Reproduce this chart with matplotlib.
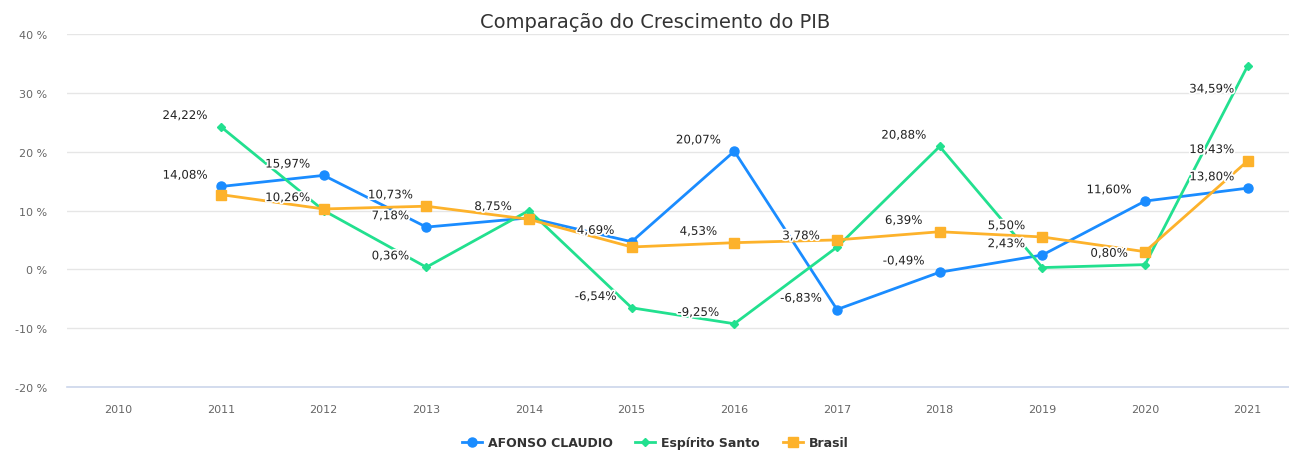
import matplotlib.pyplot as plt
import matplotlib.patheffects as pe
import numpy as np

years = [2010, 2011, 2012, 2013, 2014, 2015, 2016, 2017, 2018, 2019, 2020, 2021]

afonso = [None, 14.08, 15.97, 7.18, 8.75, 4.69, 20.07, -6.83, -0.49, 2.43, 11.60, 13.80]
es = [None, 24.22, 10.0, 0.36, 10.0, -6.54, -9.25, 3.78, 20.88, 0.30, 0.80, 34.59]
brasil = [None, 12.7, 10.26, 10.73, 8.5, 3.8, 4.53, 5.0, 6.39, 5.50, 3.0, 18.43]

# which points carry a visible label (the others were hidden by overlap)
afonso_lbl = [0, 1, 1, 1, 1, 1, 1, 1, 1, 1, 1, 1]
es_lbl = [0, 1, 0, 1, 0, 1, 1, 1, 1, 0, 1, 1]
brasil_lbl = [0, 0, 1, 1, 0, 0, 1, 0, 1, 1, 0, 1]

series = [
    ('AFONSO CLAUDIO', afonso, afonso_lbl, '#1a8cff', 'o', 6.5),
    ('Espírito Santo', es, es_lbl, '#22e08f', 'D', 4),
    ('Brasil', brasil, brasil_lbl, '#fdb22b', 's', 6.5),
]

fig = plt.figure(figsize=(12.89, 4.52), dpi=100)
ax = fig.add_axes([67 / 1289, 1 - 388 / 452, (1299 - 67) / 1289, (388 - 35) / 452])

x = np.arange(len(years))
for name, vals, lbl, col, mk, ms in series:
    xs = [i for i, v in zip(x, vals) if v is not None]
    ys = [v for v in vals if v is not None]
    ax.plot(xs, ys, color=col, lw=2, marker=mk, ms=ms, label=name, zorder=3)
    for i, v, show in zip(x, vals, lbl):
        if v is None or not show:
            continue
        dy = -12 if v > 30 else 3.5
        ax.annotate(f'{v:.2f}%'.replace('.', ','), (i, v), xytext=(-26, dy),
                    textcoords='offset points', ha='center', va='bottom' if dy > 0 else 'top',
                    fontsize=8.5, color='#222222', zorder=5,
                    path_effects=[pe.withStroke(linewidth=2.5, foreground='white')])

ax.set_xlim(-0.5, len(years) - 0.5)
ax.set_ylim(-20, 40)
ax.set_yticks(range(-20, 41, 10))
ax.set_yticklabels([f'{t} %' for t in range(-20, 41, 10)])
ax.set_xticks(x)
ax.set_xticklabels([str(y) for y in years])
ax.tick_params(axis='both', length=0, labelsize=8, labelcolor='#666666')
ax.tick_params(axis='x', pad=12)
ax.tick_params(axis='y', pad=14)
ax.grid(axis='y', color='#e6e6e6', lw=1)
ax.set_axisbelow(True)
for s in ['top', 'right', 'left']:
    ax.spines[s].set_visible(False)
ax.spines['bottom'].set_color('#ccd6eb')
ax.spines['bottom'].set_linewidth(1.2)

fig.text(655 / 1289, 1 - 22 / 452, 'Comparação do Crescimento do PIB', ha='center', va='center',
         fontsize=14, color='#333333')

leg = fig.legend(loc='center', bbox_to_anchor=(655 / 1289, 1 - 444 / 452), ncol=3, frameon=False,
                 prop={'weight': 'bold', 'size': 9}, handlelength=1.6, columnspacing=1.8,
                 handletextpad=0.5)
for t in leg.get_texts():
    t.set_color('#333333')

fig.savefig('out.png', dpi=100)
